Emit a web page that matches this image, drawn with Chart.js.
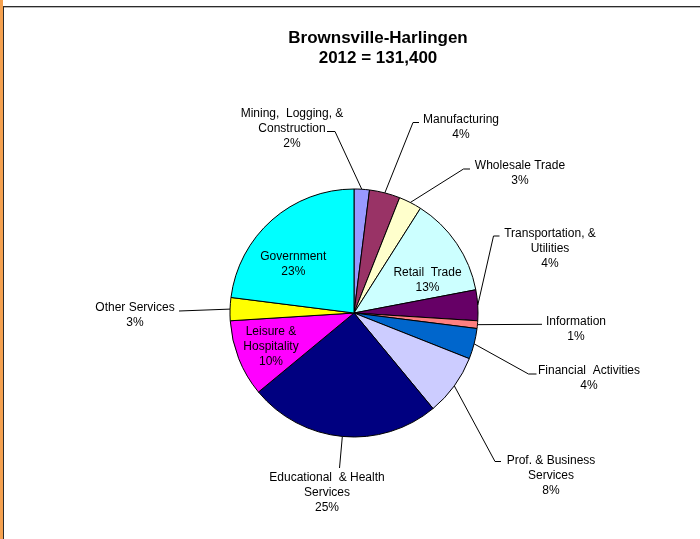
<!DOCTYPE html>
<html>
<head>
<meta charset="utf-8">
<title>Brownsville-Harlingen 2012</title>
<script src="https://cdn.jsdelivr.net/npm/chart.js@4/dist/chart.umd.min.js"></script>
<style>
  html, body { margin: 0; padding: 0; background: #fff; }
  #wrap { position: relative; width: 700px; height: 539px; overflow: hidden; }
  #edge { position: absolute; left: 0; top: 0; width: 3px; height: 539px; background: #f5a14f; }
  #frame { position: absolute; left: 3px; top: 6px; right: -2px; bottom: -2px;
           border-left: 1px solid #2b2b2b; border-top: 1px solid #2b2b2b; }
  #frame::after { content: ""; position: absolute; left: 0; right: 0; top: 0; height: 1px; background: #b8b8b8; }
  #c { position: absolute; left: 0; top: 0; }
</style>
</head>
<body>
<div id="wrap">
  <div id="edge"></div>
  <div id="frame"></div>
  <canvas id="c" width="700" height="539"></canvas>
</div>
<script>
// Employment shares by industry (percent of total), clockwise from 12 o'clock
const categories = [
  'Mining, Logging, & Construction',
  'Manufacturing',
  'Wholesale Trade',
  'Retail Trade',
  'Transportation, & Utilities',
  'Information',
  'Financial Activities',
  'Prof. & Business Services',
  'Educational & Health Services',
  'Leisure & Hospitality',
  'Other Services',
  'Government'
];
const shares = [2, 4, 3, 13, 4, 1, 4, 8, 25, 10, 3, 23];

// Label lines as printed next to each slice (percent line is added from the shares)
const labelLines = [
  ['Mining,  Logging, &', 'Construction'],
  ['Manufacturing'],
  ['Wholesale Trade'],
  ['Retail  Trade'],
  ['Transportation, &', 'Utilities'],
  ['Information'],
  ['Financial  Activities'],
  ['Prof. & Business', 'Services'],
  ['Educational  & Health', 'Services'],
  ['Leisure &', 'Hospitality'],
  ['Other Services'],
  ['Government']
];

const titleLines = ['Brownsville-Harlingen', '2012 = 131,400'];

// Slice fills
const palette = [
  '#9999ff', '#993366', '#ffffcc', '#ccffff', '#660066', '#ff8080',
  '#0066cc', '#ccccff', '#000080', '#ff00ff', '#ffff00', '#00ffff'
];

// Label placement: text centre x, first-line centre y, leader anchor and optional elbow
const labelLayout = [
  { x: 292,   y: 114,   anchor: [327, 131.5],   elbow: [335, 131.5] },
  { x: 461,   y: 120,   anchor: [419, 122.5],   elbow: [413, 122.5] },
  { x: 520,   y: 166,   anchor: [470, 169],     elbow: [463.5, 169] },
  { x: 427.5, y: 273,   inside: true },
  { x: 550,   y: 234,   anchor: [499.5, 236],   elbow: [493.5, 236] },
  { x: 576,   y: 321.7, anchor: [542, 324.3] },
  { x: 589,   y: 370.7, anchor: [536.5, 374],   elbow: [528.5, 374] },
  { x: 551,   y: 460.7, anchor: [501, 461.5],   elbow: [495, 461.5] },
  { x: 327,   y: 477.5, anchor: [339.5, 468] },
  { x: 271,   y: 331.5, inside: true },
  { x: 135,   y: 308,   anchor: [179, 311] },
  { x: 293.3, y: 256.7, inside: true }
];

const FONT = "'Liberation Sans', Arial, sans-serif";

// Draws the two-line title, slice labels and leader lines
const pieText = {
  id: 'pieText',
  afterDatasetsDraw(chart) {
    const ctx = chart.ctx;
    const meta = chart.getDatasetMeta(0);
    const data = chart.data.datasets[0].data;
    const total = data.reduce((a, b) => a + b, 0);

    ctx.save();
    ctx.fillStyle = '#000';
    ctx.textAlign = 'center';
    ctx.textBaseline = 'middle';

    ctx.font = 'bold 17px ' + FONT;
    titleLines.forEach((t, i) => ctx.fillText(t, 378, 38 + i * 20.5));

    ctx.font = '12px ' + FONT;
    ctx.strokeStyle = '#000';
    ctx.lineWidth = 1;
    meta.data.forEach((arc, i) => {
      const p = arc.getProps(['x', 'y', 'startAngle', 'endAngle', 'outerRadius'], true);
      const mid = (p.startAngle + p.endAngle) / 2;
      const ex = p.x + Math.cos(mid) * p.outerRadius;
      const ey = p.y + Math.sin(mid) * p.outerRadius;
      const L = labelLayout[i];
      if (!L.inside) {
        ctx.beginPath();
        ctx.moveTo(L.anchor[0], L.anchor[1]);
        if (L.elbow) ctx.lineTo(L.elbow[0], L.elbow[1]);
        ctx.lineTo(ex, ey);
        ctx.stroke();
      }
      const pct = Math.round(data[i] / total * 100) + '%';
      const lines = labelLines[i].concat([pct]);
      lines.forEach((t, k) => ctx.fillText(t, L.x, L.y + k * 15));
    });
    ctx.restore();
  }
};

new Chart(document.getElementById('c'), {
  type: 'pie',
  data: {
    labels: categories,
    datasets: [{
      data: shares,
      backgroundColor: palette,
      borderColor: '#000',
      borderWidth: 1,
      hoverOffset: 0
    }]
  },
  options: {
    responsive: false,
    animation: false,
    events: [],
    devicePixelRatio: 1,
    layout: { padding: { left: 229.5, right: 221.5, top: 188.5, bottom: 101.5 } },
    plugins: {
      legend: { display: false },
      tooltip: { enabled: false },
      title: { display: false }
    }
  },
  plugins: [pieText]
});
</script>
</body>
</html>
